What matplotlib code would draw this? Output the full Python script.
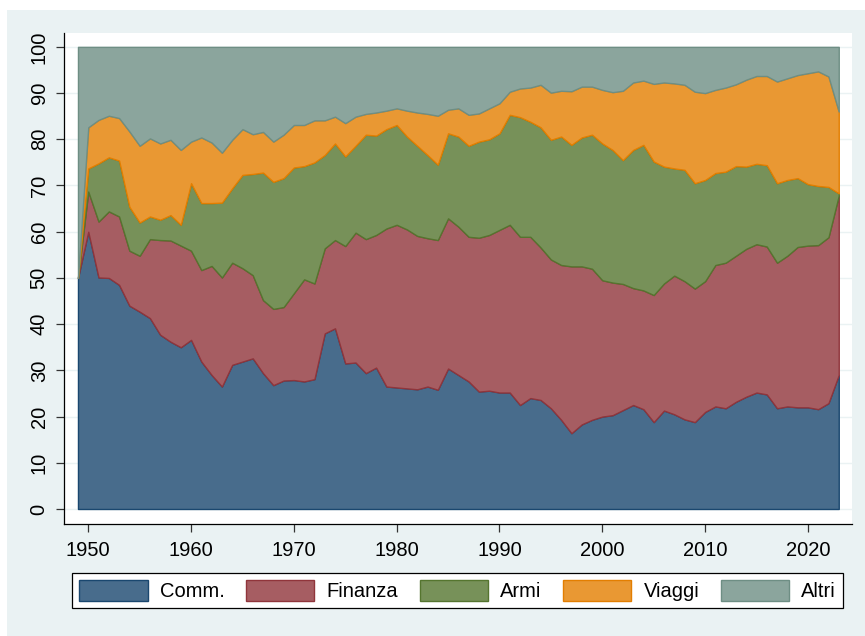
import numpy as np
import matplotlib
matplotlib.use("Agg")
import matplotlib.pyplot as plt
from matplotlib.patches import Rectangle, Patch

plt.rcParams['font.family'] = ['Liberation Sans Narrow', 'Liberation Sans', 'DejaVu Sans']

years = list(range(1949, 2024))

# quote percentuali per anno
comm = [50.0, 60.0, 50.1, 50.0, 48.5, 44.0, 42.7, 41.3, 37.7, 36.2,
        35.0, 36.6, 31.9, 29.0, 26.5, 31.2, 31.9, 32.6, 29.4, 26.8,
        27.8, 27.9, 27.6, 28.1, 38.0, 39.1, 31.5, 31.7, 29.4, 30.6,
        26.5, 26.3, 26.1, 25.9, 26.5, 25.8, 30.4, 29.0, 27.6, 25.4,
        25.6, 25.2, 25.2, 22.5, 24.0, 23.6, 21.8, 19.3, 16.4, 18.3,
        19.3, 20.0, 20.3, 21.4, 22.5, 21.6, 18.8, 21.3, 20.5, 19.4,
        18.8, 21.0, 22.2, 21.8, 23.2, 24.3, 25.2, 24.8, 21.8, 22.2,
        22.0, 22.0, 21.6, 22.9, 29.0]
finanza = [0.0, 8.7, 12.1, 14.4, 14.8, 11.9, 12.1, 17.1, 20.5, 21.9,
           22.0, 19.3, 19.8, 23.6, 23.6, 22.1, 20.2, 18.0, 15.8, 16.5,
           15.9, 18.8, 22.1, 20.7, 18.4, 19.1, 25.4, 28.1, 29.0, 28.7,
           34.2, 35.2, 34.4, 33.2, 32.1, 32.4, 32.5, 32.1, 31.3, 33.3,
           33.7, 35.2, 36.3, 36.4, 34.9, 33.0, 32.2, 33.5, 36.1, 34.2,
           32.7, 29.5, 28.7, 27.3, 25.3, 25.7, 27.5, 27.5, 30.0, 29.9,
           28.9, 28.3, 30.6, 31.5, 31.6, 32.0, 32.1, 32.0, 31.5, 32.6,
           34.7, 35.0, 35.5, 35.9, 38.8]
armi = [0.0, 5.0, 12.6, 11.7, 12.1, 9.5, 7.2, 4.9, 4.4, 5.5,
        4.5, 14.6, 14.5, 13.6, 16.2, 16.1, 20.2, 21.9, 27.6, 27.5,
        27.9, 27.2, 24.5, 26.2, 20.2, 20.9, 19.4, 18.8, 22.6, 21.5,
        21.5, 21.6, 20.1, 19.5, 18.0, 16.3, 18.4, 19.5, 19.7, 20.8,
        20.7, 20.9, 23.8, 25.9, 24.9, 26.0, 25.9, 27.8, 26.3, 27.9,
        29.0, 29.6, 28.7, 26.8, 29.9, 31.5, 28.9, 25.3, 23.2, 24.1,
        22.8, 21.9, 19.9, 19.7, 19.4, 17.8, 17.4, 17.6, 17.2, 16.4,
        14.9, 13.3, 12.8, 10.9, 0.5]
viaggi = [0.0, 8.9, 9.4, 9.0, 9.2, 16.3, 16.6, 16.9, 16.5, 16.3,
          16.2, 9.0, 14.2, 13.1, 10.8, 10.5, 9.9, 8.6, 8.8, 8.7,
          9.4, 9.2, 8.9, 9.1, 7.5, 5.8, 7.2, 6.3, 4.5, 5.0,
          4.0, 3.6, 5.6, 7.2, 8.9, 10.6, 5.1, 6.1, 6.7, 6.1,
          6.7, 6.5, 5.0, 6.2, 7.4, 9.2, 10.2, 9.9, 11.6, 11.0,
          10.4, 11.6, 12.5, 15.0, 14.6, 13.9, 16.8, 18.2, 18.4, 18.4,
          19.8, 18.8, 18.0, 18.2, 17.7, 18.8, 19.0, 19.3, 22.0, 22.0,
          22.3, 24.0, 24.8, 23.9, 17.7]
altri = [50.0, 17.4, 15.8, 14.9, 15.4, 18.3, 21.4, 19.8, 20.9, 20.1,
         22.3, 20.5, 19.6, 20.7, 22.9, 20.1, 17.8, 18.9, 18.4, 20.5,
         19.0, 16.9, 16.9, 15.9, 15.9, 15.1, 16.5, 15.1, 14.5, 14.2,
         13.8, 13.3, 13.8, 14.2, 14.5, 14.9, 13.6, 13.3, 14.7, 14.4,
         13.3, 12.2, 9.7, 9.0, 8.8, 8.2, 9.9, 9.5, 9.6, 8.6,
         8.6, 9.3, 9.8, 9.5, 7.7, 7.3, 8.0, 7.7, 7.9, 8.2,
         9.7, 10.0, 9.3, 8.8, 8.1, 7.1, 6.3, 6.3, 7.5, 6.8,
         6.1, 5.7, 5.3, 6.4, 14.0]

labels = ['Comm.', 'Finanza', 'Armi', 'Viaggi', 'Altri']
# colori stile Stata s2color: bordo pieno, riempimento schiarito
edge_cols = ['#1a476f', '#90353b', '#55752f', '#e37e00', '#6e8e84']
fill_cols = ['#486c8c', '#a65d62', '#779159', '#e99833', '#8ba59d']

fig = plt.figure(figsize=(8.65, 6.36), dpi=100, facecolor='white')
fig.patches.append(Rectangle((7 / 865, 0), 1 - 7 / 865, 1 - 10 / 636,
                             transform=fig.transFigure, facecolor='#eaf2f3',
                             edgecolor='none', zorder=-10))

ax = fig.add_axes([64 / 865, 1 - 524 / 636, (852 - 64) / 865, (524 - 33) / 636])
ax.set_facecolor('white')

polys = ax.stackplot(years, comm, finanza, armi, viaggi, altri,
                     colors=fill_cols, linewidth=1.0, zorder=2)
for p, ec in zip(polys, edge_cols):
    p.set_edgecolor(ec)

ax.set_xlim(1947.64, 2024.29)
ax.set_ylim(-3.25, 103.0)
ax.set_xticks(range(1950, 2021, 10))
ax.set_yticks(range(0, 101, 10))
ax.yaxis.grid(True, color='#eaf2f3', linewidth=1.0, zorder=0)
ax.set_axisbelow(True)

for s in ['top', 'right']:
    ax.spines[s].set_visible(False)
for s in ['left', 'bottom']:
    ax.spines[s].set_color('black')
    ax.spines[s].set_linewidth(0.9)

ax.tick_params(axis='both', length=6, width=0.9, color='#333333',
               labelsize=14.5, labelcolor='black')
ax.tick_params(axis='x', pad=6)
ax.tick_params(axis='y', pad=5)
for lab in ax.get_yticklabels():
    lab.set_rotation(90)
    lab.set_va('center')

handles = [Patch(facecolor=fc, edgecolor=ec, linewidth=1.0)
           for fc, ec in zip(fill_cols, edge_cols)]
leg = fig.legend(handles, labels, loc='center', ncol=5, mode='expand',
                 bbox_to_anchor=(72 / 865, 1 - 612 / 636, (843 - 72) / 865, (612 - 569) / 636),
                 fontsize=14.5, frameon=True, fancybox=False, framealpha=1,
                 edgecolor='black', facecolor='white',
                 handlelength=3.4, handleheight=1.2, handletextpad=0.6,
                 borderaxespad=0, borderpad=0.35)
leg.get_frame().set_linewidth(0.9)

fig.savefig('out.png', dpi=100, facecolor=fig.get_facecolor())
